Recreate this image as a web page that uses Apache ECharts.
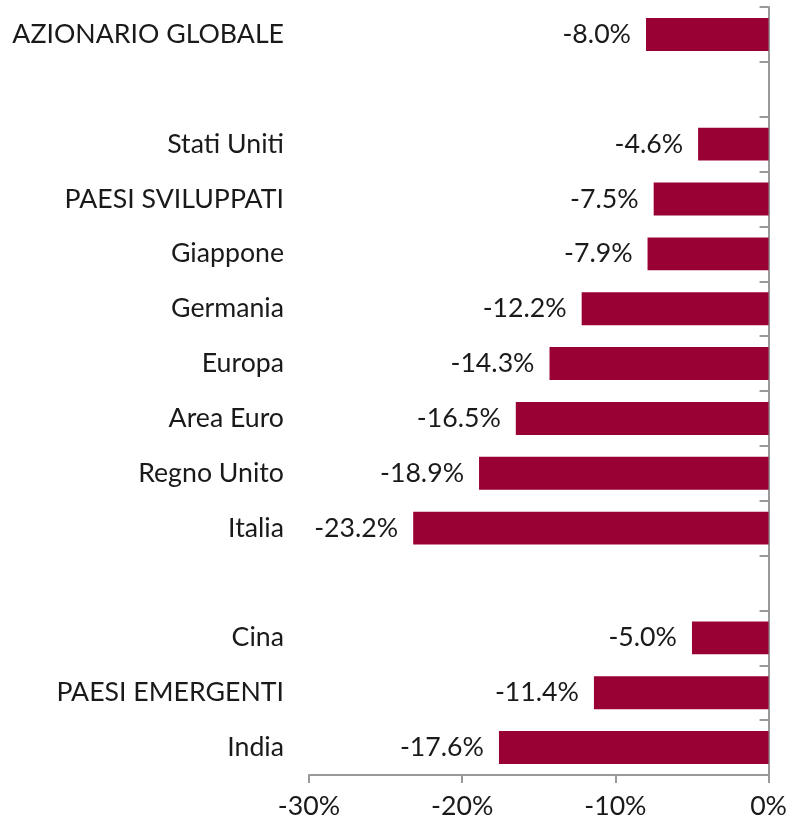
<!DOCTYPE html>
<html>
<head>
<meta charset="utf-8">
<script src="https://cdn.jsdelivr.net/npm/echarts@6/dist/echarts.min.js"></script>
<style>html,body{margin:0;padding:0;background:#fff;}#c{width:790px;height:821px;}</style>
</head>
<body>
<div id="c"></div>
<script>
var categories = ['AZIONARIO GLOBALE', '', 'Stati Uniti', 'PAESI SVILUPPATI', 'Giappone', 'Germania', 'Europa', 'Area Euro', 'Regno Unito', 'Italia', ' ', 'Cina', 'PAESI EMERGENTI', 'India'];
var values = [-8.0, null, -4.6, -7.5, -7.9, -12.2, -14.3, -16.5, -18.9, -23.2, null, -5.0, -11.4, -17.6];
var xTicks = { min: -30, max: 0, interval: 10 };

var chart = echarts.init(document.getElementById('c'));
var font = 'Lato';
var fs = 26.7;
chart.setOption({
  animation: false,
  grid: { left: 309, right: 19, top: 7, bottom: 46, containLabel: false },
  xAxis: {
    type: 'value', min: xTicks.min, max: xTicks.max, interval: xTicks.interval,
    splitLine: { show: false },
    axisLine: { show: true, lineStyle: { color: '#999', width: 2 } },
    axisTick: { show: true, length: 8, lineStyle: { color: '#999', width: 2 } },
    axisLabel: { formatter: '{value}%', color: '#1a1a1a', fontFamily: font, fontSize: fs, margin: 18 }
  },
  yAxis: [{
    type: 'category', data: categories, inverse: true, position: 'left',
    axisLine: { show: false }, axisTick: { show: false },
    axisLabel: { color: '#1a1a1a', fontFamily: font, fontSize: fs, margin: 25 }
  }, {
    type: 'category', data: categories, inverse: true, position: 'right',
    axisLine: { show: true, lineStyle: { color: '#999', width: 2 } },
    axisTick: { show: true, inside: true, length: 9, lineStyle: { color: '#999', width: 2 } },
    axisLabel: { show: false }
  }],
  series: [{
    type: 'bar', yAxisIndex: 0, data: values, barWidth: '60%',
    itemStyle: { color: '#990033' },
    label: { show: true, position: 'left', distance: 15, color: '#1a1a1a', fontFamily: font, fontSize: fs,
      formatter: function (p) { return p.value == null ? '' : p.value.toFixed(1) + '%'; } }
  }]
});
</script>
</body>
</html>
